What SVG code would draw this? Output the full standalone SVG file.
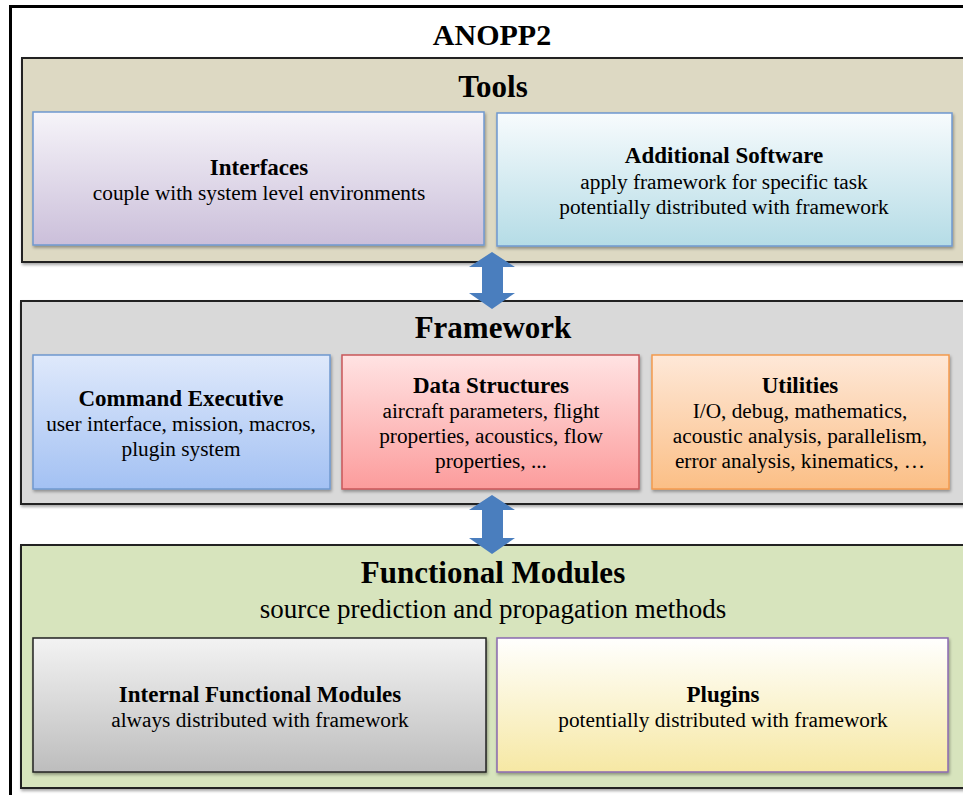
<svg xmlns="http://www.w3.org/2000/svg" width="963" height="795" viewBox="0 0 963 795">
<defs>
<filter id="sh" x="-5%" y="-5%" width="115%" height="120%"><feDropShadow dx="1" dy="2" stdDeviation="1.5" flood-color="#000" flood-opacity="0.35"/></filter>
<linearGradient id="gInt" x1="0" y1="0" x2="0" y2="1"><stop offset="0" stop-color="#f6f4f9"/><stop offset="1" stop-color="#cbbfda"/></linearGradient>
<linearGradient id="gAdd" x1="0" y1="0" x2="0" y2="1"><stop offset="0" stop-color="#f7fbfd"/><stop offset="1" stop-color="#b5dce6"/></linearGradient>
<linearGradient id="gCmd" x1="0" y1="0" x2="0" y2="1"><stop offset="0" stop-color="#dfe9fb"/><stop offset="1" stop-color="#a3c1f3"/></linearGradient>
<linearGradient id="gData" x1="0" y1="0" x2="0" y2="1"><stop offset="0" stop-color="#ffe3e3"/><stop offset="1" stop-color="#fc9c9c"/></linearGradient>
<linearGradient id="gUtil" x1="0" y1="0" x2="0" y2="1"><stop offset="0" stop-color="#fee8d8"/><stop offset="1" stop-color="#fbbf86"/></linearGradient>
<linearGradient id="gIfm" x1="0" y1="0" x2="0" y2="1"><stop offset="0" stop-color="#f3f3f3"/><stop offset="1" stop-color="#bdbdbd"/></linearGradient>
<linearGradient id="gPlug" x1="0" y1="0" x2="0" y2="1"><stop offset="0" stop-color="#fffffe"/><stop offset="1" stop-color="#f6e8a4"/></linearGradient>
</defs>
<style>
text{font-family:"Liberation Serif","Times New Roman",serif;fill:#000;text-anchor:middle}
.h1{font-size:30px;font-weight:bold}
.h2{font-size:31px;font-weight:bold}
.sub{font-size:27px}
.bt{font-size:23px;font-weight:bold}
.t{font-size:21.3px}
.panel{stroke:#222;stroke-width:2;filter:url(#sh)}
.box{stroke-width:1.5;filter:url(#sh)}
.arrow{fill:#4a7ebe}
</style>
<rect x="0" y="0" width="963" height="795" fill="#fff"/>
<rect x="10.5" y="6.5" width="980" height="820" fill="#fff" stroke="#000" stroke-width="3"/>
<text class="h1" x="492" y="45">ANOPP2</text>

<g id="tools">
<rect class="panel" x="22" y="58" width="960" height="204" fill="#ddd9c3"/>
<text class="h2" x="493" y="97">Tools</text>
</g>
<g id="interfaces">
<rect class="box" x="33" y="112" width="451" height="133" fill="url(#gInt)" stroke="#6f98cf"/>
<text class="bt" x="259" y="175">Interfaces</text>
<text class="t" x="259" y="200">couple with system level environments</text>
</g>
<g id="additional-software">
<rect class="box" x="497" y="113" width="455" height="133" fill="url(#gAdd)" stroke="#6f98cf"/>
<text class="bt" x="724" y="163">Additional Software</text>
<text class="t" x="724" y="189">apply framework for specific task</text>
<text class="t" x="724" y="214">potentially distributed with framework</text>
</g>

<g id="framework">
<rect class="panel" x="21" y="301" width="960" height="203" fill="#d9d9d9"/>
<text class="h2" x="493" y="338">Framework</text>
</g>
<g id="command-executive">
<rect class="box" x="33" y="355" width="297" height="134" fill="url(#gCmd)" stroke="#6f98cf"/>
<text class="bt" x="181" y="406">Command Executive</text>
<text class="t" x="181" y="431">user interface, mission, macros,</text>
<text class="t" x="181" y="456">plugin system</text>
</g>
<g id="data-structures">
<rect class="box" x="342" y="355" width="297" height="134" fill="url(#gData)" stroke="#c9575a"/>
<text class="bt" x="491" y="393">Data Structures</text>
<text class="t" x="491" y="418">aircraft parameters, flight</text>
<text class="t" x="491" y="443">properties, acoustics, flow</text>
<text class="t" x="491" y="468">properties, ...</text>
</g>
<g id="utilities">
<rect class="box" x="652" y="355" width="297" height="134" fill="url(#gUtil)" stroke="#f49a4e"/>
<text class="bt" x="800" y="393">Utilities</text>
<text class="t" x="800" y="418">I/O, debug, mathematics,</text>
<text class="t" x="800" y="443">acoustic analysis, parallelism,</text>
<text class="t" x="800" y="468">error analysis, kinematics, …</text>
</g>

<g id="functional-modules">
<rect class="panel" x="21" y="545" width="960" height="243" fill="#d7e4bd"/>
<text class="h2" x="493" y="583">Functional Modules</text>
<text class="sub" x="493" y="618">source prediction and propagation methods</text>
</g>
<g id="internal-functional-modules">
<rect class="box" x="33" y="638" width="453" height="134" fill="url(#gIfm)" stroke="#222"/>
<text class="bt" x="260" y="702">Internal Functional Modules</text>
<text class="t" x="260" y="727">always distributed with framework</text>
</g>
<g id="plugins">
<rect class="box" x="497" y="638" width="451" height="134" fill="url(#gPlug)" stroke="#8a6ab0"/>
<text class="bt" x="723" y="702">Plugins</text>
<text class="t" x="723" y="727">potentially distributed with framework</text>
</g>

<g id="connectors">
<polygon class="arrow" points="492,252 515,267 503,267 503,293 515,293 492,309 469,293 482,293 482,267 469,267"/>
<polygon class="arrow" points="492,495 515,510 503,510 503,538 515,538 492,554 469,538 482,538 482,510 469,510"/>
</g>
</svg>
